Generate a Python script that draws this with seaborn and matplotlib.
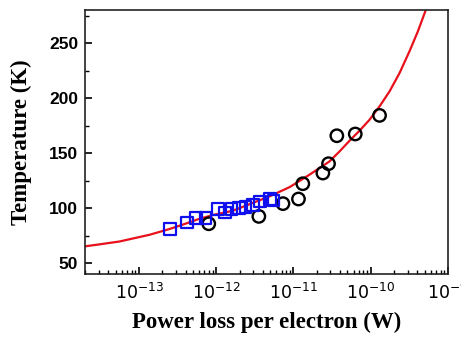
import numpy as np
import pandas as pd
import matplotlib
matplotlib.use("Agg")
import matplotlib.pyplot as plt
import matplotlib.ticker as mticker
import seaborn as sns

# Fitted curve
curve_p = [2.0e-14, 3.1e-14, 5.6e-14, 1.37e-13, 2.5e-13, 3.9e-13, 6.1e-13, 9.5e-13,
           1.63e-12, 2.7e-12, 4.9e-12, 8.9e-12, 1.61e-11, 2.93e-11, 3.95e-11,
           5.32e-11, 7.16e-11, 9.66e-11, 1.30e-10, 1.75e-10, 2.36e-10, 3.17e-10,
           4.07e-10, 5.12e-10, 5.75e-10]
curve_t = [65.2, 67.0, 69.6, 75.7, 81.0, 85.5, 90.3, 94.0,
           97.5, 103.5, 110.6, 119.0, 130.3, 142.4, 151.5,
           161.2, 170.3, 180.3, 192.4, 206.0, 222.7, 242.4,
           260.5, 279.4, 292.0]

# Black circles
circ_p = [8.0e-13, 3.56e-12, 7.3e-12, 1.16e-11, 1.32e-11, 2.4e-11, 2.84e-11,
          3.64e-11, 6.3e-11, 1.3e-10]
circ_t = [85.7, 92.4, 104.0, 108.2, 122.1, 131.8, 140.3, 165.7, 167.3, 184.2]

# Blue squares
sq_p = [2.5e-13, 4.2e-13, 5.5e-13, 7.3e-13, 1.05e-12, 1.29e-12, 1.57e-12,
        1.97e-12, 2.4e-12, 2.98e-12, 3.7e-12, 5.0e-12, 5.5e-12]
sq_t = [80.9, 86.9, 90.9, 90.9, 99.1, 96.0, 99.0, 100.0, 101.0, 103.0,
        106.0, 108.0, 107.0]

sns.set_style("ticks")
plt.rcParams["mathtext.fontset"] = "custom"
plt.rcParams["mathtext.bf"] = "Liberation Sans:bold"
plt.rcParams["mathtext.rm"] = "Liberation Sans:bold"
plt.rcParams["mathtext.default"] = "bf"
plt.rcParams["text.color"] = "black"
plt.rcParams["axes.labelcolor"] = "black"
plt.rcParams["xtick.color"] = "black"
plt.rcParams["ytick.color"] = "black"

fig = plt.figure(figsize=(4.61, 3.38), dpi=100)
ax = fig.add_axes([85/461, 1-273.5/338, (448-85)/461, (273.5-10)/338])

sns.lineplot(x=curve_p, y=curve_t, ax=ax, color="#e8111b", lw=1.6, zorder=2, sort=False)
sns.scatterplot(x=circ_p, y=circ_t, ax=ax, marker="o", s=80, facecolor="none",
                edgecolor="black", linewidth=1.7, zorder=3)
sns.scatterplot(x=sq_p, y=sq_t, ax=ax, marker="s", s=70, facecolor="none",
                edgecolor="#1010ee", linewidth=1.6, zorder=4)

ax.set_xscale("log")
ax.set_xlim(2e-14, 1e-9)
ax.set_ylim(40.5, 280)
ax.xaxis.set_major_locator(mticker.LogLocator(base=10, numticks=10))
ax.xaxis.set_minor_locator(mticker.LogLocator(base=10, subs=np.arange(2, 10), numticks=10))
ax.xaxis.set_minor_formatter(mticker.NullFormatter())
ax.yaxis.set_major_locator(mticker.MultipleLocator(50))
ax.yaxis.set_minor_locator(mticker.MultipleLocator(25))

for s in ax.spines.values():
    s.set_visible(True)
    s.set_linewidth(1.2)
    s.set_color("#222222")

ax.tick_params(axis="both", which="major", direction="in", length=5, width=1.2,
               top=False, right=False, colors="black")
ax.tick_params(axis="both", which="minor", direction="in", length=3, width=1.0,
               top=False, right=False, colors="black")
ax.tick_params(axis="x", which="major", pad=7)
ax.tick_params(axis="y", which="major", pad=5)
for lab in ax.get_yticklabels():
    lab.set_fontfamily("Liberation Sans")
    lab.set_fontweight("bold")
    lab.set_fontsize(12.5)
for lab in ax.get_xticklabels():
    lab.set_fontsize(12.5)

ax.set_xlabel("Power loss per electron (W)", fontfamily="Liberation Serif",
              fontweight="bold", fontsize=16.5, labelpad=6, color="black")
ax.set_ylabel("Temperature (K)", fontfamily="Liberation Serif",
              fontweight="bold", fontsize=16.5, labelpad=12, color="black")

fig.savefig("out.png", dpi=100)
